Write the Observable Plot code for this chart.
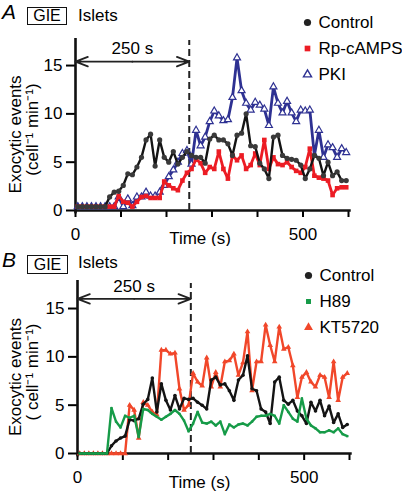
<!DOCTYPE html>
<html><head><meta charset="utf-8">
<script src="https://cdn.jsdelivr.net/npm/d3@7"></script>
<script src="https://cdn.jsdelivr.net/npm/@observablehq/plot@0.6"></script>
<style>
body{margin:0;background:#fff;}
#wrap{position:relative;width:402px;height:492px;overflow:hidden;font-family:"Liberation Sans",Arial,sans-serif;color:#000;}
.abs{position:absolute;line-height:1;white-space:nowrap;}
.box{position:absolute;box-sizing:border-box;border:1.8px solid #111;display:flex;align-items:center;justify-content:center;font-size:16px;line-height:1;}
</style></head>
<body>
<div id="wrap">
 <div id="pa" class="abs" style="left:0;top:0"></div>
 <div id="pb" class="abs" style="left:0;top:246px"></div>
 <div class="abs" style="left:2px;top:1px;font-size:21px;line-height:22px;font-style:italic">A</div>
 <div class="box" style="left:27px;top:7px;width:40px;height:18px">GIE</div>
 <div class="abs" style="left:78px;top:6.6px;font-size:17px">Islets</div>
 <div class="abs" style="left:2px;top:249px;font-size:21px;line-height:22px;font-style:italic">B</div>
 <div class="box" style="left:27px;top:255px;width:41px;height:19px">GIE</div>
 <div class="abs" style="left:78px;top:253.6px;font-size:17px">Islets</div>
</div>
<script>
// ---- data ----
const times = [5,15,25,35,45,55,65,75,85,95,105,115,125,135,145,155,165,175,185,195,205,215,225,235,245,255,265,275,285,295,305,315,325,335,345,355,365,375,385,395,405,415,425,435,445,455,465,475,485,495,505,515,525,535,545,555,565,575,585,595];
const controlA = [0.4,0.4,0.4,0.4,0.4,0.4,0.4,1.4,1.9,2.0,2.6,3.8,3.7,4.5,5.5,7.3,7.9,4.6,7.3,5.5,5.0,6.1,4.8,5.5,6.1,5.7,5.5,5.5,4.9,7.4,7.8,7.3,7.3,6.9,5.7,7.8,8.0,10.0,6.7,6.6,4.9,4.3,3.3,7.6,7.8,5.7,5.4,5.3,5.2,4.7,3.3,4.3,5.7,5.4,3.6,5.0,3.6,4.0,3.1,3.1];
const rpcampsA = [0.4,0.4,0.4,0.4,0.4,0.4,0.4,0.4,0.4,1.5,0.9,0.8,0.4,0.9,1.4,1.5,1.3,1.3,1.3,3.0,2.6,2.3,2.1,3.1,3.9,4.3,5.3,4.9,3.9,4.5,4.3,6.1,4.3,3.3,5.7,5.2,5.7,4.3,4.7,5.9,4.7,7.3,4.3,5.5,4.8,4.7,5.0,4.5,4.1,3.9,4.5,6.4,3.6,3.4,3.3,3.1,1.6,2.3,2.4,2.4];
const pkiA = [0.4,0.4,0.4,0.4,0.4,0.4,0.4,0.4,0.4,1.4,0.4,1.2,0.5,1.4,1.4,1.9,1.5,1.5,1.9,2.6,3.5,4.2,5.0,5.9,6.2,4.8,8.3,6.7,7.6,9.2,10.3,9.8,9.3,9.4,11.7,15.8,12.4,11.1,10.4,11.2,10.9,10.5,8.8,12.8,11.1,10.1,11.3,10.1,9.2,10.4,10.3,10.4,5.7,8.3,5.5,6.8,6.5,5.5,6.4,6.0];
const controlB = [0,0,0,0,0,0,0,0.8,1.3,1.6,1.8,3.5,3.4,3.6,5.1,5.6,7.8,4.3,7.2,5.5,4.5,6.0,4.6,5.7,5.6,5.7,5.3,5.0,4.6,7.6,7.9,7.1,7.2,6.5,5.5,7.6,8.1,10.1,6.7,6.5,4.6,4.3,3.1,7.4,7.9,5.5,5.1,5.5,4.4,3.9,3.1,5.3,4.4,5.5,3.9,4.9,3.2,4.1,2.7,3.0];
const h89B = [0,0,0,0,0,0,0,4.7,3.3,2.7,3.9,3.7,3.9,1.7,4.6,4.5,4.1,3.8,3.5,3.8,4.1,4.5,4.1,3.4,2.3,3.1,4.3,3.2,3.1,3.3,2.9,3.3,2.0,3.0,2.7,3.0,3.1,2.9,3.3,3.8,3.9,3.9,4.1,3.9,3.1,5.0,4.3,3.6,3.3,5.7,3.6,2.9,2.6,2.2,2.2,2.4,2.2,2.6,2.0,1.8];
const kt5720B = [0,0,0,0,0,0,0,0,0,0,0,5.0,4.5,1.6,5.3,5.0,4.3,4.0,10.7,10.7,10.3,10.4,6.7,4.5,5.0,8.3,7.4,7.0,9.9,6.9,8.4,6.9,9.5,9.6,10.3,8.1,9.4,12.6,6.5,9.5,9.5,13.3,11.2,9.5,13.1,10.8,11.0,9.1,5.8,7.9,8.4,7.4,6.9,8.1,7.9,5.8,9.5,5.5,7.9,8.3];
const yTicks = [0, 5, 10, 15];
const xTicks = [0, 100, 200, 300, 400, 500, 600];
const xTickLabels = ["0", "", "", "", "", "500", ""];
const windowStart = 0, windowEnd = 250;
const yTitle = ["Exocytic events", "(cell\u207B\u00B9 min\u207B\u00B9)"];
const yTitleB = ["Exocytic events", "( cell\u207B\u00B9 min\u207B\u00B9)"];
const xTitle = "Time (s)";

// ---- drawing ----
const ink = "#111";
const font = "'Liberation Sans', Arial, sans-serif";
const rows = vals => times.map((t, i) => ({t, v: vals[i]}));

function panel(c) {
  const marks = [
    Plot.axisY({ticks: yTicks, tickSize: 9, tickPadding: 4, strokeWidth: 2, fontSize: 17, label: null}),
    Plot.axisX({ticks: xTicks, tickSize: 7, tickPadding: 10, strokeWidth: 2, fontSize: 17, label: null,
      tickFormat: d => xTickLabels[xTicks.indexOf(d)]}),
    Plot.ruleY([0], {x1: 0, x2: 606, stroke: ink, strokeWidth: 2.6}),
    Plot.ruleX([0], {y1: -0.35, y2: c.ymax, stroke: ink, strokeWidth: 2.6}),
    Plot.ruleX([windowEnd], {y1: 0, y2: c.dashTop, stroke: "#222", strokeWidth: 2, strokeDasharray: "7,4"}),
    Plot.arrow([windowStart, windowEnd], {x1: (windowStart + windowEnd) / 2, y1: c.arrowY, x2: d => d, y2: c.arrowY,
      headLength: 11, headAngle: 42, strokeWidth: 1.8, stroke: "#222"}),
    Plot.text([windowEnd - windowStart], {x: (windowStart + windowEnd) / 2, y: c.arrowY, dy: c.labelDy,
      text: d => `${d} s`, fontSize: 17})
  ];
  for (const s of c.series) {
    marks.push(Plot.line(rows(s.vals), {x: "t", y: "v", stroke: s.color, strokeWidth: s.lw}));
    marks.push(Plot.dot(rows(s.vals), {x: "t", y: "v", symbol: s.symbol, r: s.r,
      fill: s.fill, stroke: s.mstroke, strokeWidth: s.msw}));
  }
  c.legend.forEach((name, i) => {
    const s = c.series.find(d => d.name === name);
    marks.push(Plot.dot([s], {frameAnchor: "top-left", dx: c.legendDx, dy: c.legendDy + i * c.legendGap,
      symbol: s.symbol, r: s.lr, fill: s.lfill, stroke: s.mstroke, strokeWidth: s.msw + 0.2}));
    marks.push(Plot.text([s], {frameAnchor: "top-left", dx: c.legendDx + 11, dy: c.legendDy + i * c.legendGap,
      text: d => d.name, textAnchor: "start", lineAnchor: "middle", fontSize: 17}));
  });
  c.ylab.forEach((t, i) => {
    marks.push(Plot.text([t], {frameAnchor: "left", rotate: -90, textAnchor: "middle", lineAnchor: "middle",
      dx: c.ylabDx[i], dy: c.ylabDy[i], text: d => d, fontSize: 17}));
  });
  marks.push(Plot.text([xTitle], {frameAnchor: "bottom", lineAnchor: "middle", textAnchor: "middle",
    dx: c.timeDx, dy: c.timeDy, text: d => d, fontSize: 17}));
  return Plot.plot({
    width: 402, height: 246,
    marginLeft: c.ml, marginRight: c.mr, marginTop: c.mt, marginBottom: c.mb,
    x: {domain: [0, 600], label: null},
    y: {domain: [0, c.ymax], label: null},
    style: {fontFamily: font, fontSize: "17px", background: "#fff", color: "#000", overflow: "visible"},
    marks
  });
}

const svgA = panel({
  ml: 75, mr: 54, mt: 38, mb: 36, ymax: 17.8, dashTop: 17.6, arrowY: 15.4, labelDy: -13,
  legendDx: 232, legendDy: -16, legendGap: 26,
  legend: ["Control", "Rp-cAMPS", "PKI"],
  ylab: yTitle, ylabDx: [-60, -43], ylabDy: [10, 5], timeDx: -12, timeDy: 28,
  series: [
    {name: "PKI", vals: pkiA, color: "#2e3192", lw: 2.8, symbol: "triangle", r: 2.6, fill: "#fff", lfill: "#fff", mstroke: "#2e3192", msw: 1.2, lr: 3.0},
    {name: "Rp-cAMPS", vals: rpcampsA, color: "#ec1c24", lw: 2.8, symbol: "square", r: 2.6, fill: "#ec1c24", lfill: "#ec1c24", mstroke: "none", msw: 0, lr: 3.2},
    {name: "Control", vals: controlA, color: "#141414", lw: 2.4, symbol: "circle", r: 2.6, fill: "#3a3a3a", lfill: "#222", mstroke: "none", msw: 0, lr: 3.6}
  ]
});
const svgB = panel({
  ml: 77, mr: 53, mt: 34, mb: 39, ymax: 17.9, dashTop: 17.6, arrowY: 16.0, labelDy: -12,
  legendDx: 231, legendDy: -5, legendGap: 26,
  legend: ["Control", "H89", "KT5720"],
  ylab: yTitleB, ylabDx: [-62, -45], ylabDy: [10, 5], timeDx: -14, timeDy: 29,
  series: [
    {name: "KT5720", vals: kt5720B, color: "#f1472a", lw: 2.4, symbol: "triangle", r: 2.1, fill: "#f1472a", lfill: "#f1472a", mstroke: "none", msw: 0, lr: 3.3},
    {name: "Control", vals: controlB, color: "#141414", lw: 2.4, symbol: "circle", r: 1.8, fill: "#141414", lfill: "#222", mstroke: "none", msw: 0, lr: 3.6},
    {name: "H89", vals: h89B, color: "#169b48", lw: 2.4, symbol: "square", r: 1.3, fill: "#169b48", lfill: "#169b48", mstroke: "none", msw: 0, lr: 2.8}
  ]
});
document.getElementById("pa").appendChild(svgA);
document.getElementById("pb").appendChild(svgB);
</script>
</body></html>
